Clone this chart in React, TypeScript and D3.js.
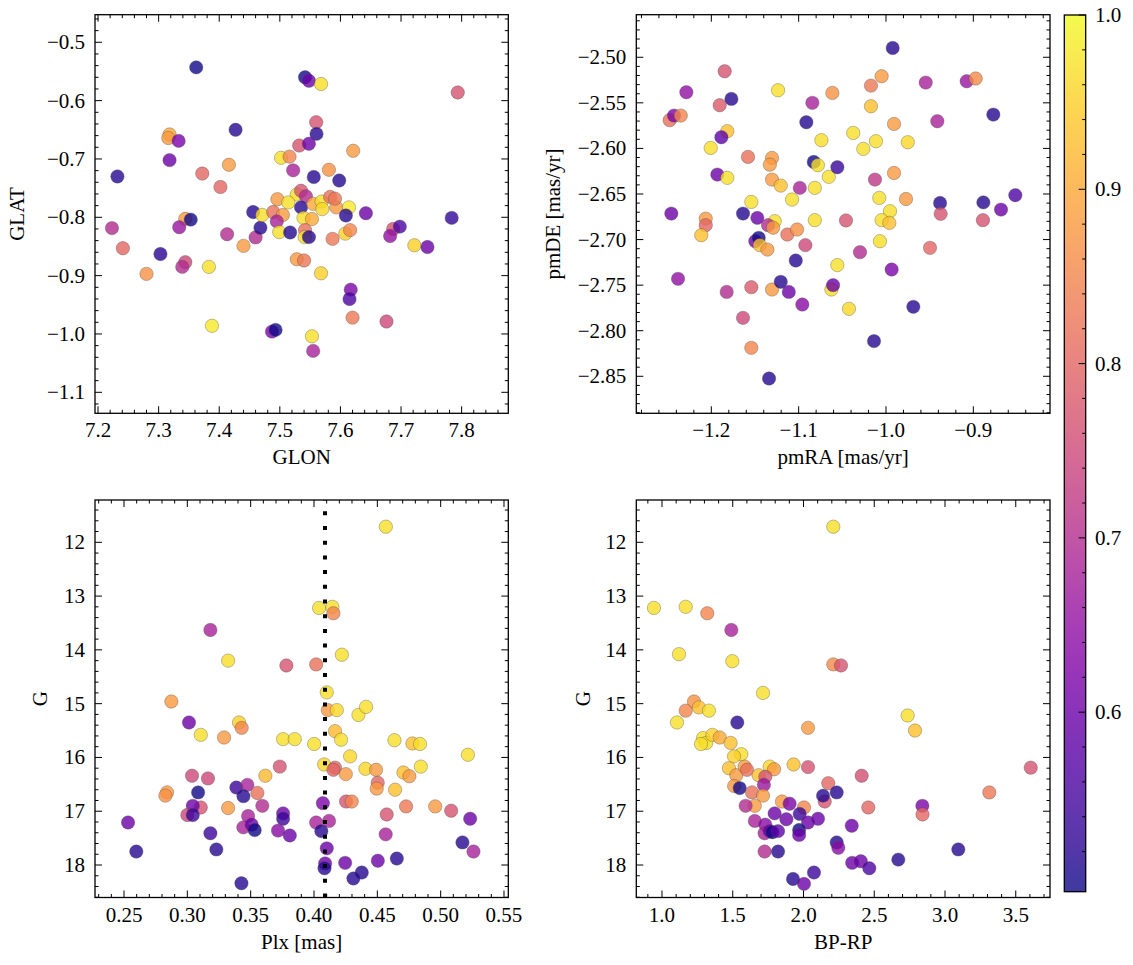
import React from 'react';
import * as d3 from 'd3';

const FONT = '"Liberation Serif", "DejaVu Serif", serif';
const FS = 21;

type Pt = [number, number, number];

// GLON, GLAT, membership probability
const glonGlat: Pt[] = [
  [7.362, -0.543, 0.5], [7.427, -0.65, 0.515], [7.318, -0.658, 0.9], [7.316, -0.664, 0.88],
  [7.333, -0.669, 0.62], [7.318, -0.702, 0.6], [7.232, -0.73, 0.515], [7.372, -0.725, 0.8],
  [7.416, -0.71, 0.88], [7.402, -0.748, 0.8], [7.456, -0.791, 0.515], [7.223, -0.8185, 0.7],
  [7.241, -0.853, 0.8], [7.28, -0.897, 0.87], [7.303, -0.863, 0.52], [7.344, -0.8026, 0.88],
  [7.353, -0.804, 0.5], [7.334, -0.817, 0.66], [7.344, -0.877, 0.75], [7.339, -0.885, 0.7],
  [7.383, -0.885, 0.97], [7.388, -0.986, 0.98], [7.413, -0.829, 0.7], [7.44, -0.849, 0.88],
  [7.46, -0.8345, 0.7], [7.468, -0.818, 0.515],
  [7.5416, -0.56, 0.5], [7.548, -0.566, 0.6], [7.568, -0.5715, 0.97], [7.56, -0.637, 0.77],
  [7.5605, -0.657, 0.515], [7.532, -0.677, 0.77], [7.548, -0.674, 0.6], [7.621, -0.686, 0.88],
  [7.502, -0.698, 0.97], [7.516, -0.696, 0.85], [7.522, -0.7195, 0.68], [7.556, -0.731, 0.515],
  [7.581, -0.7185, 0.87], [7.598, -0.737, 0.515], [7.528, -0.761, 0.97], [7.535, -0.7545, 0.77],
  [7.543, -0.764, 0.7], [7.496, -0.769, 0.88], [7.514, -0.7745, 0.97], [7.535, -0.783, 0.515],
  [7.5553, -0.777, 0.9], [7.569, -0.773, 0.97], [7.57, -0.786, 0.96], [7.583, -0.765, 0.82],
  [7.593, -0.783, 0.88], [7.591, -0.768, 0.83], [7.614, -0.783, 0.98], [7.609, -0.797, 0.515],
  [7.642, -0.793, 0.6], [7.471, -0.796, 0.97], [7.489, -0.791, 0.82], [7.505, -0.796, 0.88],
  [7.495, -0.807, 0.68], [7.539, -0.801, 0.97], [7.553, -0.803, 0.9], [7.499, -0.8254, 0.97],
  [7.517, -0.826, 0.515], [7.5416, -0.822, 0.82], [7.541, -0.834, 0.97], [7.548, -0.834, 0.515],
  [7.587, -0.837, 0.83], [7.608, -0.828, 0.95], [7.616, -0.822, 0.85], [7.528, -0.872, 0.88],
  [7.54, -0.874, 0.83], [7.568, -0.896, 0.95], [7.617, -0.924, 0.62], [7.615, -0.94, 0.56],
  [7.62, -0.972, 0.83], [7.487, -0.996, 0.62], [7.493, -0.993, 0.5], [7.553, -1.004, 0.97],
  [7.555, -1.029, 0.68],
  [7.7936, -0.586, 0.77], [7.687, -0.82, 0.77], [7.698, -0.816, 0.56], [7.682, -0.832, 0.65],
  [7.722, -0.848, 0.95], [7.7436, -0.851, 0.6], [7.7836, -0.801, 0.53], [7.676, -0.9786, 0.75],
];

// pmRA, pmDE, membership probability
const pmraPmde: Pt[] = [
  [-1.1847, -2.5154, 0.77], [-1.2286, -2.5384, 0.65], [-1.177, -2.5457, 0.515], [-1.1904, -2.5526, 0.78],
  [-1.1236, -2.5362, 0.97], [-1.0843, -2.55, 0.68], [-1.0614, -2.5391, 0.87], [-1.2477, -2.569, 0.82],
  [-1.2427, -2.564, 0.62], [-1.235, -2.564, 0.85], [-1.0912, -2.5713, 0.515], [-1.1817, -2.5811, 0.93],
  [-1.1885, -2.5877, 0.58], [-1.2007, -2.5995, 0.97], [-1.074, -2.591, 0.97], [-1.158, -2.6093, 0.82],
  [-1.1305, -2.6104, 0.88], [-1.133, -2.6178, 0.88], [-1.0827, -2.6148, 0.5], [-1.078, -2.6184, 0.97],
  [-1.0655, -2.6312, 0.97], [-1.0557, -2.6206, 0.54], [-1.1931, -2.6287, 0.6], [-1.1817, -2.6323, 0.97],
  [-1.1305, -2.6342, 0.88], [-1.1205, -2.6408, 0.93], [-1.0987, -2.6433, 0.68], [-1.0815, -2.6433, 0.97],
  [-1.1076, -2.6561, 0.97], [-1.1542, -2.6587, 0.97], [-1.2458, -2.6715, 0.6], [-1.1637, -2.6715, 0.515],
  [-1.1473, -2.6762, 0.6], [-1.1274, -2.6798, 0.97], [-1.0815, -2.6787, 0.97], [-1.2064, -2.677, 0.88],
  [-1.2064, -2.6842, 0.8], [-1.2115, -2.6952, 0.93], [-1.135, -2.6842, 0.7], [-1.1293, -2.687, 0.88],
  [-1.113, -2.6945, 0.82], [-1.1018, -2.689, 0.87], [-1.1496, -2.7018, 0.6], [-1.1457, -2.6981, 0.5],
  [-1.1445, -2.7061, 0.93], [-1.1358, -2.711, 0.88], [-1.0923, -2.7061, 0.75], [-1.1033, -2.723, 0.515],
  [-1.2381, -2.7431, 0.65], [-1.1824, -2.7574, 0.7], [-1.1542, -2.7522, 0.78], [-1.1305, -2.7548, 0.88],
  [-1.1205, -2.7464, 0.515], [-1.1113, -2.7574, 0.6], [-1.0958, -2.7713, 0.64], [-1.0625, -2.7548, 0.97],
  [-1.0606, -2.75, 0.6], [-1.0557, -2.728, 0.97], [-1.1637, -2.7859, 0.75], [-1.1542, -2.8188, 0.85],
  [-1.1339, -2.8524, 0.515],
  [-0.9923, -2.4898, 0.515], [-1.005, -2.5208, 0.88], [-1.0172, -2.5311, 0.83], [-0.9545, -2.5278, 0.68],
  [-0.9076, -2.5263, 0.66], [-0.8973, -2.5233, 0.86], [-0.8771, -2.5629, 0.515], [-0.9412, -2.5702, 0.68],
  [-1.0172, -2.5537, 0.93], [-0.9908, -2.5731, 0.88], [-1.0375, -2.583, 0.97], [-1.0115, -2.5921, 0.97],
  [-1.026, -2.6005, 0.97], [-0.9751, -2.5932, 0.96], [-1.0126, -2.6342, 0.72], [-0.9908, -2.6269, 0.88],
  [-1.0077, -2.6543, 0.97], [-0.9771, -2.6555, 0.88], [-0.9954, -2.6689, 0.97], [-1.005, -2.6787, 0.97],
  [-0.9962, -2.6817, 0.93], [-1.0458, -2.679, 0.77], [-0.9381, -2.6598, 0.515], [-0.9374, -2.6718, 0.77],
  [-0.8885, -2.6592, 0.515], [-0.8683, -2.6671, 0.6], [-0.8519, -2.6513, 0.56], [-0.889, -2.6787, 0.77],
  [-1.0069, -2.7018, 0.97], [-0.9496, -2.7091, 0.8], [-1.0298, -2.7138, 0.7], [-0.9935, -2.7329, 0.62],
  [-1.0424, -2.776, 0.96], [-0.9687, -2.7738, 0.515], [-1.0137, -2.8114, 0.515],
];

// Parallax, G magnitude, membership probability
const plxG: Pt[] = [
  [0.3182, 13.63, 0.68], [0.3322, 14.2, 0.97], [0.3782, 14.29, 0.77], [0.2874, 14.96, 0.88],
  [0.3013, 15.35, 0.6], [0.3106, 15.58, 0.97], [0.329, 15.63, 0.88], [0.3408, 15.35, 0.95],
  [0.3429, 15.45, 0.85], [0.3756, 15.66, 0.97], [0.3848, 15.66, 0.97], [0.373, 16.17, 0.77],
  [0.3616, 16.34, 0.92], [0.3037, 16.34, 0.75], [0.3163, 16.39, 0.75], [0.284, 16.65, 0.88],
  [0.2827, 16.71, 0.87], [0.3085, 16.65, 0.5], [0.3387, 16.56, 0.54], [0.3474, 16.51, 0.68],
  [0.3443, 16.72, 0.515], [0.3553, 16.66, 0.82], [0.3592, 16.9, 0.7], [0.3322, 16.94, 0.88],
  [0.3106, 16.93, 0.77], [0.3043, 16.9, 0.6], [0.3, 17.07, 0.75], [0.3043, 17.07, 0.54],
  [0.2532, 17.21, 0.6], [0.2597, 17.75, 0.515], [0.3182, 17.41, 0.54], [0.3229, 17.71, 0.515],
  [0.348, 17.09, 0.68], [0.3442, 17.3, 0.68], [0.3508, 17.25, 0.6], [0.3532, 17.35, 0.5],
  [0.3756, 17.04, 0.6], [0.3756, 17.14, 0.54], [0.3716, 17.36, 0.64], [0.3809, 17.45, 0.6],
  [0.3427, 18.34, 0.515],
  [0.4567, 11.71, 0.97], [0.404, 13.22, 0.97], [0.4145, 13.2, 0.97], [0.4153, 13.32, 0.85],
  [0.422, 14.09, 0.97], [0.4017, 14.27, 0.82], [0.4101, 14.79, 0.97], [0.4109, 15.12, 0.88],
  [0.418, 15.12, 0.96], [0.4351, 15.21, 0.97], [0.4411, 15.06, 0.97], [0.4166, 15.51, 0.92],
  [0.4214, 15.67, 0.97], [0.4001, 15.75, 0.97], [0.4635, 15.68, 0.97], [0.4777, 15.74, 0.93],
  [0.4837, 15.75, 0.97], [0.5215, 15.95, 0.97], [0.4285, 15.98, 0.96], [0.408, 16.13, 0.96],
  [0.4166, 16.19, 0.8], [0.4153, 16.23, 0.8], [0.4251, 16.31, 0.88], [0.4406, 16.21, 0.96],
  [0.449, 16.23, 0.88], [0.4503, 16.47, 0.8], [0.4495, 16.58, 0.88], [0.464, 16.6, 0.93],
  [0.4706, 16.28, 0.93], [0.4753, 16.35, 0.88], [0.4843, 16.17, 0.97], [0.4253, 16.82, 0.77],
  [0.4298, 16.82, 0.85], [0.4727, 16.91, 0.83], [0.4957, 16.91, 0.88], [0.5083, 16.99, 0.77],
  [0.5233, 17.14, 0.6], [0.4574, 17.06, 0.77], [0.4566, 17.43, 0.68], [0.407, 16.85, 0.62],
  [0.4017, 17.21, 0.68], [0.4119, 17.18, 0.68], [0.4058, 17.37, 0.515], [0.4101, 17.69, 0.6],
  [0.4088, 17.97, 0.6], [0.4083, 18.06, 0.515], [0.4246, 17.96, 0.6], [0.4377, 18.14, 0.515],
  [0.4311, 18.25, 0.515], [0.4504, 17.92, 0.6], [0.4654, 17.88, 0.515], [0.5172, 17.58, 0.515],
  [0.5259, 17.75, 0.68],
];

// BP-RP colour, G magnitude, membership probability
const bprpG: Pt[] = [
  [0.943, 13.22, 0.97], [1.1675, 13.2, 0.97], [1.32, 13.32, 0.85], [1.49, 13.63, 0.68],
  [1.12, 14.08, 0.97], [1.497, 14.21, 0.97], [1.714, 14.8, 0.97], [1.226, 14.96, 0.87],
  [1.1675, 15.13, 0.85], [1.261, 15.07, 0.93], [1.332, 15.13, 0.97], [1.106, 15.35, 0.97],
  [1.532, 15.35, 0.515], [2.032, 15.45, 0.88], [1.29, 15.64, 0.97], [1.3127, 15.73, 0.97],
  [1.356, 15.58, 0.95], [1.408, 15.63, 0.9], [1.485, 15.73, 0.93], [1.2756, 15.75, 0.97],
  [1.56, 15.94, 0.97], [1.509, 15.98, 0.95], [1.473, 16.2, 0.93], [1.525, 16.33, 0.88],
  [1.584, 16.17, 0.88], [1.601, 16.23, 0.82], [1.683, 16.33, 0.93], [1.761, 16.17, 0.96],
  [1.792, 16.22, 0.88], [1.73, 16.36, 0.77], [1.72, 16.51, 0.66], [1.51, 16.53, 0.88],
  [1.549, 16.57, 0.5], [1.636, 16.65, 0.82], [1.714, 16.71, 0.88], [1.656, 16.9, 0.88],
  [1.591, 16.9, 0.7], [1.93, 16.13, 0.93], [2.032, 16.18, 0.77], [1.848, 16.82, 0.88],
  [1.902, 16.86, 0.62], [2.0035, 16.93, 0.85], [1.796, 17.04, 0.6], [1.879, 17.15, 0.6],
  [1.973, 17.05, 0.54], [2.032, 17.21, 0.6], [2.1025, 17.14, 0.6], [2.15, 16.82, 0.77],
  [2.138, 16.71, 0.515], [1.656, 17.18, 0.68], [1.73, 17.25, 0.64], [1.725, 17.41, 0.68],
  [1.761, 17.37, 0.6], [1.78, 17.39, 0.5], [1.82, 17.37, 0.58], [1.725, 17.75, 0.7],
  [1.82, 17.75, 0.515], [1.969, 17.35, 0.5], [1.969, 17.44, 0.6], [1.926, 18.26, 0.515],
  [2.0035, 18.35, 0.6], [2.074, 18.14, 0.54],
  [2.2106, 11.71, 0.97], [2.2106, 14.27, 0.86], [2.265, 14.29, 0.77], [2.736, 15.22, 0.97],
  [2.788, 15.5, 0.93], [3.606, 16.19, 0.77], [3.313, 16.65, 0.83], [2.411, 16.34, 0.76],
  [2.175, 16.48, 0.8], [2.2346, 16.65, 0.515], [2.458, 16.93, 0.8], [2.84, 16.9, 0.62],
  [2.841, 17.06, 0.8], [2.341, 17.27, 0.6], [2.2346, 17.58, 0.515], [2.246, 17.68, 0.64],
  [2.344, 17.96, 0.6], [2.405, 17.93, 0.6], [2.465, 18.06, 0.56], [2.67, 17.9, 0.515],
  [3.094, 17.71, 0.515],
];

const plxRef = 0.4087;
const probDomain: [number, number] = [0.497, 1.0];
const cbarMajor = [0.6, 0.7, 0.8, 0.9, 1.0];

const colorScale = d3.scaleSequential(d3.interpolatePlasma).domain(probDomain).clamp(true);

function stepTicks(lo: number, hi: number, step: number): number[] {
  const a = Math.ceil(lo / step - 1e-7);
  const b = Math.floor(hi / step + 1e-7);
  const out: number[] = [];
  for (let k = a; k <= b; k++) out.push(+(k * step).toFixed(6));
  return out;
}

interface PanelSpec {
  data: Pt[];
  xDomain: [number, number];
  yDomain: [number, number];
  left: number; right: number; top: number; bottom: number;
  xMajor: number; xMinor: number; yMajor: number; yMinor: number;
  xFmt: string; yFmt: string;
  xLabel: string; yLabel: string; yLabelX: number;
  invertY?: boolean;
  vline?: number;
}

const Panel: React.FC<{ s: PanelSpec; id: string }> = ({ s, id }) => {
  const x = d3.scaleLinear().domain(s.xDomain).range([s.left, s.right]);
  const y = d3.scaleLinear().domain(s.yDomain).range(s.invertY ? [s.top, s.bottom] : [s.bottom, s.top]);
  const xLo = Math.min(...s.xDomain), xHi = Math.max(...s.xDomain);
  const yLo = Math.min(...s.yDomain), yHi = Math.max(...s.yDomain);
  const xMaj = stepTicks(xLo, xHi, s.xMajor);
  const yMaj = stepTicks(yLo, yHi, s.yMajor);
  const isMaj = (v: number, st: number) => Math.abs(v / st - Math.round(v / st)) < 1e-6;
  const xMin = stepTicks(xLo, xHi, s.xMinor).filter(v => !isMaj(v, s.xMajor));
  const yMin = stepTicks(yLo, yHi, s.yMinor).filter(v => !isMaj(v, s.yMajor));
  const xf = d3.format(s.xFmt);
  const yf = d3.format(s.yFmt);
  const MAJ = 7, MIN = 3.5;
  const cy = (s.top + s.bottom) / 2;
  return (
    <g>
      <defs>
        <clipPath id={id}>
          <rect x={s.left} y={s.top} width={s.right - s.left} height={s.bottom - s.top} />
        </clipPath>
      </defs>
      <g clipPath={`url(#${id})`}>
        {s.data.map((d, i) => (
          <circle key={i} cx={x(d[0])} cy={y(d[1])} r={6.7}
            fill={colorScale(d[2])} fillOpacity={0.8}
            stroke="#4a4a4a" strokeOpacity={0.7} strokeWidth={0.5} />
        ))}
        {s.vline !== undefined && (
          <line x1={x(s.vline)} x2={x(s.vline)} y1={s.bottom} y2={s.top}
            stroke="#000" strokeWidth={4} strokeDasharray="4 10.7" />
        )}
      </g>
      {/* ticks */}
      <g stroke="#000" strokeWidth={1}>
        {xMaj.map((v, i) => (
          <g key={'xM' + i}>
            <line x1={x(v)} x2={x(v)} y1={s.bottom} y2={s.bottom - MAJ} />
            <line x1={x(v)} x2={x(v)} y1={s.top} y2={s.top + MAJ} />
          </g>
        ))}
        {xMin.map((v, i) => (
          <g key={'xm' + i}>
            <line x1={x(v)} x2={x(v)} y1={s.bottom} y2={s.bottom - MIN} />
            <line x1={x(v)} x2={x(v)} y1={s.top} y2={s.top + MIN} />
          </g>
        ))}
        {yMaj.map((v, i) => (
          <g key={'yM' + i}>
            <line x1={s.left} x2={s.left + MAJ} y1={y(v)} y2={y(v)} />
            <line x1={s.right} x2={s.right - MAJ} y1={y(v)} y2={y(v)} />
          </g>
        ))}
        {yMin.map((v, i) => (
          <g key={'ym' + i}>
            <line x1={s.left} x2={s.left + MIN} y1={y(v)} y2={y(v)} />
            <line x1={s.right} x2={s.right - MIN} y1={y(v)} y2={y(v)} />
          </g>
        ))}
      </g>
      <rect x={s.left} y={s.top} width={s.right - s.left} height={s.bottom - s.top}
        fill="none" stroke="#000" strokeWidth={1.3} />
      {/* tick labels */}
      <g fontFamily={FONT} fontSize={FS} fill="#000">
        {xMaj.map((v, i) => (
          <text key={'xl' + i} x={x(v)} y={s.bottom + 17} textAnchor="middle" dominantBaseline="central">{xf(v)}</text>
        ))}
        {yMaj.map((v, i) => (
          <text key={'yl' + i} x={s.left - 10} y={y(v)} textAnchor="end" dominantBaseline="central">{yf(v)}</text>
        ))}
        <text x={(s.left + s.right) / 2} y={s.bottom + 44} textAnchor="middle" dominantBaseline="central">{s.xLabel}</text>
        <text transform={`translate(${s.yLabelX},${cy}) rotate(-90)`} textAnchor="middle" dominantBaseline="central">{s.yLabel}</text>
      </g>
    </g>
  );
};

const TOP_T = 14.7, TOP_B = 413.3, BOT_T = 500, BOT_B = 897.5;
const L_L = 95, L_R = 508.3, R_L = 636.3, R_R = 1050;

const panels: PanelSpec[] = [
  {
    data: glonGlat, xDomain: [7.195, 7.877], yDomain: [-1.136, -0.4527],
    left: L_L, right: L_R, top: TOP_T, bottom: TOP_B,
    xMajor: 0.1, xMinor: 0.02, yMajor: 0.1, yMinor: 0.02, xFmt: '.1f', yFmt: '.1f',
    xLabel: 'GLON', yLabel: 'GLAT', yLabelX: 17,
  },
  {
    data: pmraPmde, xDomain: [-1.2859, -0.8122], yDomain: [-2.8906, -2.4533],
    left: R_L, right: R_R, top: TOP_T, bottom: TOP_B,
    xMajor: 0.1, xMinor: 0.02, yMajor: 0.05, yMinor: 0.01, xFmt: '.1f', yFmt: '.2f',
    xLabel: 'pmRA [mas/yr]', yLabel: 'pmDE [mas/yr]', yLabelX: 553,
  },
  {
    data: plxG, xDomain: [0.2271, 0.5534], yDomain: [11.2135, 18.604],
    left: L_L, right: L_R, top: BOT_T, bottom: BOT_B,
    xMajor: 0.05, xMinor: 0.01, yMajor: 1, yMinor: 0.2, xFmt: '.2f', yFmt: 'd',
    xLabel: 'Plx [mas]', yLabel: 'G', yLabelX: 40, invertY: true, vline: plxRef,
  },
  {
    data: bprpG, xDomain: [0.8184, 3.742], yDomain: [11.2135, 18.604],
    left: R_L, right: R_R, top: BOT_T, bottom: BOT_B,
    xMajor: 0.5, xMinor: 0.1, yMajor: 1, yMinor: 0.2, xFmt: '.1f', yFmt: 'd',
    xLabel: 'BP-RP', yLabel: 'G', yLabelX: 583, invertY: true,
  },
];

const Colorbar: React.FC = () => {
  const x0 = 1064.3, x1 = 1085.7, y0 = 15, y1 = 891.7;
  const cy = d3.scaleLinear().domain(probDomain).range([y1, y0]);
  const stops = d3.range(0, 1.0001, 0.05);
  const minor = stepTicks(probDomain[0], probDomain[1], 0.02).filter(v => Math.abs(v * 10 - Math.round(v * 10)) > 1e-6);
  return (
    <g>
      <defs>
        <linearGradient id="cbgrad" x1="0" y1="1" x2="0" y2="0">
          {stops.map((t, i) => (
            <stop key={i} offset={t} stopColor={d3.interpolatePlasma(t)} />
          ))}
        </linearGradient>
      </defs>
      <rect x={x0} y={y0} width={x1 - x0} height={y1 - y0} fill="url(#cbgrad)" fillOpacity={0.8} />
      <g stroke="#000" strokeWidth={1}>
        {cbarMajor.map((v, i) => <line key={'M' + i} x1={x1} x2={x1 - 7} y1={cy(v)} y2={cy(v)} />)}
        {minor.map((v, i) => <line key={'m' + i} x1={x1} x2={x1 - 3.5} y1={cy(v)} y2={cy(v)} />)}
      </g>
      <rect x={x0} y={y0} width={x1 - x0} height={y1 - y0} fill="none" stroke="#000" strokeWidth={1.3} />
      <g fontFamily={FONT} fontSize={FS} fill="#000">
        {cbarMajor.map((v, i) => (
          <text key={i} x={1095} y={cy(v)} dominantBaseline="central">{d3.format('.1f')(v)}</text>
        ))}
      </g>
    </g>
  );
};

export default function App() {
  return (
    <svg width={1133} height={965} style={{ position: 'absolute', left: 0, top: 0, background: '#fff' }}>
      <rect x={0} y={0} width={1133} height={965} fill="#fff" />
      {panels.map((p, i) => <Panel key={i} s={p} id={`clip${i}`} />)}
      <Colorbar />
    </svg>
  );
}
